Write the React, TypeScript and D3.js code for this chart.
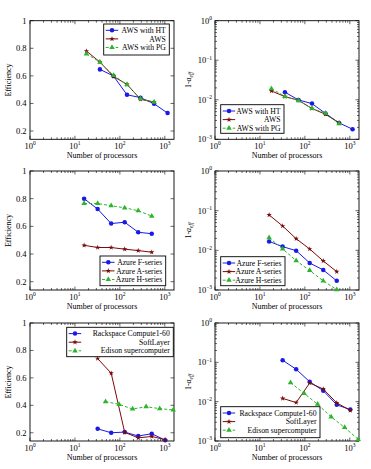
import React, { useEffect, useRef } from 'react';
import * as d3 from 'd3';

// processor counts per platform
const procsAwsHT = [36, 72, 144, 288, 576, 1152];
const procsAws = [18, 36, 72, 144, 288, 576];
const procsAzure = [16, 32, 64, 128, 256, 512];
const procsCloud = [32, 64, 128, 256, 512, 1024];
const procsEdison = [48, 96, 192, 384, 768, 1536];

// efficiency
const effAwsHT = [0.647, 0.599, 0.463, 0.442, 0.398, 0.33];
const effAws = [0.78, 0.70, 0.596, 0.538, 0.43, 0.41];
const effAwsPG = [0.76, 0.70, 0.604, 0.536, 0.434, 0.41];
const effAzureF = [0.80, 0.725, 0.62, 0.63, 0.557, 0.547];
const effAzureA = [0.463, 0.447, 0.447, 0.435, 0.425, 0.413];
const effAzureH = [0.765, 0.765, 0.749, 0.734, 0.713, 0.674];
const effRackspace = [0.229, 0.2, 0.205, 0.176, 0.193, 0.146];
const effSoftLayer = [0.741, 0.634, 0.203, 0.163, 0.173, 0.149];
const effEdison = [0.427, 0.407, 0.373, 0.39, 0.376, 0.366];

// 1 - a_eff
const aAwsHT = [0.0155, 0.0099, 0.008, 0.0045, 0.0026, 0.0018];
const aAws = [0.0167, 0.012, 0.0097, 0.006, 0.0043, 0.0026];
const aAwsPG = [0.019, 0.0122, 0.0095, 0.006, 0.0046, 0.0025];
const aAzureF = [0.0168, 0.0124, 0.0098, 0.0048, 0.0032, 0.0017];
const aAzureA = [0.078, 0.041, 0.0196, 0.0108, 0.0054, 0.0029];
const aAzureH = [0.021, 0.0108, 0.0055, 0.0031, 0.0017, 0.00102];
const aRackspace = [0.113, 0.0666, 0.032, 0.019, 0.0083, 0.0063];
const aSoftLayer = [0.0121, 0.0095, 0.0298, 0.021, 0.0093, 0.006];
const aEdison = [0.0304, 0.0162, 0.0086, 0.0041, 0.0022, 0.0011];

const effTicks = [0.2, 0.4, 0.6, 0.8, 1];

const FONT = 'Liberation Serif';
const COLS = [[30, 174], [215, 359]];
const ROWS = [[20.7, 139.3], [171, 290], [323, 441]];

const STYLES: any = {
  blue: { color: '#1a1ae6', symbol: d3.symbolCircle, size: 16, dash: null },
  red: { color: '#7a0a0a', symbol: d3.symbolStar, size: 9, dash: null },
  green: { color: '#2cb52c', symbol: d3.symbolTriangle, size: 13, dash: '3,2' },
};

const mk = (name, xs, ys, style) => ({ name, pts: xs.map((v, i) => [v, ys[i]]), style });

const panels = [
  { col: 0, row: 0, kind: 'eff', legend: { x: 73.7, y: 3.3, w: 65.6, h: 31 },
    series: [mk('AWS with HT', procsAwsHT, effAwsHT, 'blue'), mk('AWS', procsAws, effAws, 'red'), mk('AWS with PG', procsAws, effAwsPG, 'green')] },
  { col: 1, row: 0, kind: 'aeff', legend: { x: 5.7, y: 84, w: 63.3, h: 28.6 },
    series: [mk('AWS with HT', procsAwsHT, aAwsHT, 'blue'), mk('AWS', procsAws, aAws, 'red'), mk('AWS with PG', procsAws, aAwsPG, 'green')] },
  { col: 0, row: 1, kind: 'eff', legend: { x: 70, y: 85, w: 65.7, h: 29.7 },
    series: [mk('Azure F-series', procsAzure, effAzureF, 'blue'), mk('Azure A-series', procsAzure, effAzureA, 'red'), mk('Azure H-series', procsAzure, effAzureH, 'green')] },
  { col: 1, row: 1, kind: 'aeff', legend: { x: 5.7, y: 85.7, w: 64.3, h: 29 },
    series: [mk('Azure F-series', procsAzure, aAzureF, 'blue'), mk('Azure A-series', procsAzure, aAzureA, 'red'), mk('Azure H-series', procsAzure, aAzureH, 'green')] },
  { col: 0, row: 2, kind: 'eff', legend: { x: 36.7, y: 4.3, w: 106.6, h: 29.4 },
    series: [mk('Rackspace Compute1-60', procsCloud, effRackspace, 'blue'), mk('SoftLayer', procsCloud, effSoftLayer, 'red'), mk('Edison supercomputer', procsEdison, effEdison, 'green')] },
  { col: 1, row: 2, kind: 'aeff', legend: { x: 5.7, y: 83.7, w: 99.3, h: 31 },
    series: [mk('Rackspace Compute1-60', procsCloud, aRackspace, 'blue'), mk('SoftLayer', procsCloud, aSoftLayer, 'red'), mk('Edison supercomputer', procsEdison, aEdison, 'green')] },
];

function powLabel(sel, exp) {
  sel.append('tspan').text('10');
  sel.append('tspan').attr('dy', -3.5).attr('font-size', 5.5).text(exp < 0 ? '\u2212' + (-exp) : String(exp));
}

function drawPanel(svg, p) {
  const [x0, x1] = COLS[p.col], [y0, y1] = ROWS[p.row];
  const x = d3.scaleLog().domain([1, 1600]).range([x0, x1]);
  const y: any = p.kind === 'eff'
    ? d3.scaleLinear().domain([0.14, 1]).range([y1, y0])
    : d3.scaleLog().domain([1e-3, 1]).range([y1, y0]);
  const g = svg.append('g').attr('font-family', FONT).attr('font-size', 8);

  // x ticks (bottom + top, inward)
  x.ticks().forEach(v => {
    const major = Math.abs(Math.log10(v) - Math.round(Math.log10(v))) < 1e-9;
    const len = major ? 3.5 : 2;
    const px = x(v);
    if (px > x1) return;
    g.append('line').attr('x1', px).attr('x2', px).attr('y1', y1).attr('y2', y1 - len).attr('stroke', '#000').attr('stroke-width', 0.6);
    g.append('line').attr('x1', px).attr('x2', px).attr('y1', y0).attr('y2', y0 + len).attr('stroke', '#000').attr('stroke-width', 0.6);
    if (major) {
      const t = g.append('text').attr('x', px).attr('y', y1 + 9.5).attr('text-anchor', 'middle').attr('font-size', 8.5);
      powLabel(t, Math.round(Math.log10(v)));
    }
  });

  // y ticks (left + right, inward)
  if (p.kind === 'eff') {
    effTicks.forEach(v => {
      const py = y(v);
      g.append('line').attr('x1', x0).attr('x2', x0 + 3.5).attr('y1', py).attr('y2', py).attr('stroke', '#000').attr('stroke-width', 0.6);
      g.append('line').attr('x1', x1).attr('x2', x1 - 3.5).attr('y1', py).attr('y2', py).attr('stroke', '#000').attr('stroke-width', 0.6);
      g.append('text').attr('x', x0 - 3.5).attr('y', py + 2.9).attr('text-anchor', 'end').attr('font-size', 8.5)
        .text(v === 1 ? '1' : d3.format('.1f')(v));
    });
  } else {
    y.ticks().forEach(v => {
      const major = Math.abs(Math.log10(v) - Math.round(Math.log10(v))) < 1e-9;
      const len = major ? 3.5 : 2;
      const py = y(v);
      g.append('line').attr('x1', x0).attr('x2', x0 + len).attr('y1', py).attr('y2', py).attr('stroke', '#000').attr('stroke-width', 0.6);
      g.append('line').attr('x1', x1).attr('x2', x1 - len).attr('y1', py).attr('y2', py).attr('stroke', '#000').attr('stroke-width', 0.6);
      if (major) {
        const t = g.append('text').attr('x', x0 - 3).attr('y', py + 2.9).attr('text-anchor', 'end').attr('font-size', 8.5);
        powLabel(t, Math.round(Math.log10(v)));
      }
    });
  }

  // frame
  g.append('rect').attr('x', x0).attr('y', y0).attr('width', x1 - x0).attr('height', y1 - y0)
    .attr('fill', 'none').attr('stroke', '#000').attr('stroke-width', 0.9);

  // axis titles
  g.append('text').attr('x', (x0 + x1) / 2).attr('y', y1 + 19).attr('text-anchor', 'middle').text('Number of processors');
  const yc = (y0 + y1) / 2;
  if (p.kind === 'eff') {
    g.append('text').attr('transform', `translate(${x0 - 19},${yc}) rotate(-90)`).attr('text-anchor', 'middle').text('Efficiency');
  } else {
    const t = g.append('text').attr('transform', `translate(${x0 - 24},${yc}) rotate(-90)`).attr('text-anchor', 'middle');
    t.append('tspan').text('1-');
    t.append('tspan').attr('font-style', 'italic').text('a');
    t.append('tspan').attr('dy', 2).attr('font-size', 5.5).attr('font-style', 'italic').text('eff');
  }

  // series
  const line = d3.line().x(d => x(d[0])).y(d => y(d[1]));
  p.series.forEach(s => {
    const st = STYLES[s.style];
    g.append('path').datum(s.pts).attr('d', line).attr('fill', 'none').attr('stroke', st.color)
      .attr('stroke-width', 1).attr('stroke-dasharray', st.dash);
    g.selectAll(null).data(s.pts).join('path')
      .attr('transform', d => `translate(${x(d[0])},${y(d[1])})`)
      .attr('d', d3.symbol(st.symbol, st.size)())
      .attr('fill', st.color);
  });

  // legend
  const L = p.legend;
  const lg = g.append('g').attr('transform', `translate(${x0 + L.x},${y0 + L.y})`);
  lg.append('rect').attr('width', L.w).attr('height', L.h).attr('fill', '#fff').attr('stroke', '#000').attr('stroke-width', 0.9);
  p.series.forEach((s, i) => {
    const st = STYLES[s.style];
    const ry = 6.3 + i * 8.6;
    lg.append('line').attr('x1', 2).attr('x2', 14.5).attr('y1', ry).attr('y2', ry).attr('stroke', st.color)
      .attr('stroke-width', 1).attr('stroke-dasharray', st.dash);
    lg.append('path').attr('transform', `translate(8.3,${ry})`).attr('d', d3.symbol(st.symbol, st.size)()).attr('fill', st.color);
    lg.append('text').attr('x', L.w - 3.5).attr('y', ry + 2.7).attr('text-anchor', 'end').attr('font-size', 7.7).text(s.name);
  });
}

export default function App() {
  const ref = useRef<SVGSVGElement>(null);
  useEffect(() => {
    const svg = d3.select(ref.current);
    svg.selectAll('*').remove();
    svg.append('rect').attr('width', 371).attr('height', 469).attr('fill', '#fff');
    panels.forEach(p => drawPanel(svg, p));
  }, []);
  return (
    <div style={{ position: 'absolute', left: 0, top: 0 }}>
      <svg ref={ref} width={371} height={469} style={{ display: 'block' }} />
    </div>
  );
}
